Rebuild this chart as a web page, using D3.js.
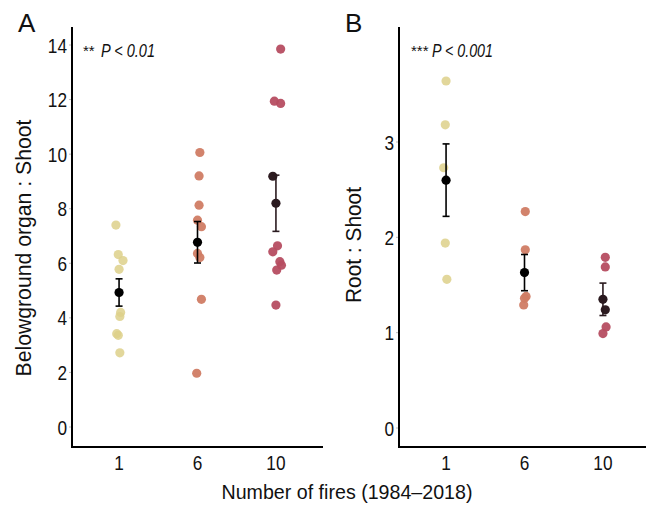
<!DOCTYPE html>
<html>
<head>
<meta charset="utf-8">
<script src="https://cdn.jsdelivr.net/npm/d3@7"></script>
<style>
  body { margin: 0; background: #fff; }
  text { font-family: "Liberation Sans", Arial, sans-serif; fill: #111; }
</style>
</head>
<body>
<svg id="chart" width="646" height="505"></svg>
<script>
// categories (number of fires)
const fires = ["1", "6", "10"];

// panel A: belowground organ : shoot, points per group
const organ1  = [7.40, 6.32, 6.10, 5.78, 4.20, 4.05, 3.42, 3.36, 2.72];
const organ6  = [10.06, 9.20, 8.13, 7.58, 7.34, 6.36, 6.21, 4.68, 1.97];
const organ10 = [13.85, 11.94, 11.86, 9.19, 6.64, 6.42, 6.06, 5.93, 5.75, 4.47];
// horizontal jitter (fraction of category step)
const jitA1  = [-0.04, -0.01, 0.05, 0.00, 0.02, 0.01, -0.03, -0.01, 0.01];
const jitA6  = [0.03, 0.02, 0.02, 0.00, 0.05, 0.00, 0.03, 0.05, -0.01];
const jitA10 = [0.06, -0.02, 0.06, -0.04, 0.02, -0.04, 0.05, 0.07, 0.01, 0.00];
const organMean = [4.93, 6.77, 8.20];
const organSe   = [0.50, 0.76, 1.03];

// panel B: root : shoot
const root1  = [3.64, 3.18, 2.73, 1.94, 1.56];
const root6  = [2.27, 1.87, 1.38, 1.36, 1.29];
const root10 = [1.79, 1.69, 1.24, 1.06, 0.99];
const jitB1  = [0.00, -0.01, -0.03, -0.01, 0.01];
const jitB6  = [0.01, 0.01, 0.02, 0.00, -0.01];
const jitB10 = [0.03, 0.03, 0.03, 0.04, 0.00];
const rootMean = [2.60, 1.63, 1.35];
const rootSe   = [0.38, 0.19, 0.17];

const ticksA = [0, 2, 4, 6, 8, 10, 12, 14];
const ticksB = [0, 1, 2, 3];

const groupColors = ["#ddd08a", "#d07c64", "#b64d61"];
const meanColors = ["#000000", "#000000", "#2a1a1f"];
const darkPoint = "#2d1c21";

const svg = d3.select("#chart");

function squeeze(sel, k) {
  sel.each(function() {
    const w = this.getComputedTextLength();
    d3.select(this).attr("textLength", w * k).attr("lengthAdjust", "spacingAndGlyphs");
  });
}

function panel(opt) {
  const x = d3.scalePoint().domain(fires).range([opt.x0, opt.x1]).padding(0.6);
  const y = d3.scaleLinear().domain(opt.ydom).range(opt.yrange);
  const step = x.step();
  const g = svg.append("g");

  // y tick labels + small ticks
  const yt = g.append("g");
  yt.selectAll("line").data(opt.ticks).join("line")
    .attr("x1", opt.x0 - 3).attr("x2", opt.x0)
    .attr("y1", d => y(d)).attr("y2", d => y(d))
    .attr("stroke", "#bbb").attr("stroke-width", 1);
  yt.selectAll("text").data(opt.ticks).join("text")
    .attr("x", opt.x0 - 5).attr("y", d => y(d)).attr("dy", "0.36em")
    .attr("text-anchor", "end").style("font-size", "21px")
    .text(d => d)
    .call(squeeze, 0.82);

  // x tick labels
  g.append("g").selectAll("text").data(fires).join("text")
    .attr("x", d => x(d)).attr("y", 470)
    .attr("text-anchor", "middle").style("font-size", "21px")
    .text(d => d)
    .call(squeeze, 0.82);

  // points
  opt.groups.forEach((vals, gi) => {
    const pts = vals.map((v, i) => ({ v, j: opt.jit[gi][i], i }));
    g.append("g").selectAll("circle").data(pts).join("circle")
      .attr("cx", d => x(fires[gi]) + d.j * step)
      .attr("cy", d => y(d.v))
      .attr("r", 4.6)
      .attr("fill", d => (opt.dark[gi] === d.i ? darkPoint : groupColors[gi]))
      .attr("fill-opacity", d => (opt.dark[gi] === d.i ? 1 : opt.alpha[gi]));
  });

  // mean ± se
  const ms = fires.map((f, i) => ({ f, m: opt.mean[i], se: opt.se[i], c: meanColors[i] }));
  const eb = g.append("g");
  eb.selectAll("line.v").data(ms).join("line").attr("class", "v")
    .attr("x1", d => x(d.f)).attr("x2", d => x(d.f))
    .attr("y1", d => y(d.m - d.se)).attr("y2", d => y(d.m + d.se))
    .attr("stroke", d => d.c).attr("stroke-width", 1.6);
  [-1, 1].forEach(s => {
    eb.append("g").selectAll("line").data(ms).join("line")
      .attr("x1", d => x(d.f) - 3.5).attr("x2", d => x(d.f) + 3.5)
      .attr("y1", d => y(d.m + s * d.se)).attr("y2", d => y(d.m + s * d.se))
      .attr("stroke", d => d.c).attr("stroke-width", 1.6);
  });
  eb.selectAll("circle").data(ms).join("circle")
    .attr("cx", d => x(d.f)).attr("cy", d => y(d.m)).attr("r", 4.6)
    .attr("fill", d => d.c);

  // axes lines
  g.append("line").attr("x1", opt.x0).attr("x2", opt.x0)
    .attr("y1", 27).attr("y2", 448).attr("stroke", "#000").attr("stroke-width", 2);
  g.append("line").attr("x1", opt.x0 - 1).attr("x2", opt.x1)
    .attr("y1", 447).attr("y2", 447).attr("stroke", "#000").attr("stroke-width", 2);

  // panel letter
  g.append("text").attr("x", opt.letterX).attr("y", 32)
    .style("font-size", "26px").text(opt.letter);

  // significance
  g.append("text").attr("x", opt.starX).attr("y", 56)
    .style("font-size", "15px").text(opt.stars);
  g.append("text").attr("x", opt.pX).attr("y", 57)
    .style("font-size", "18px").style("font-style", "italic")
    .attr("textLength", opt.pLen).attr("lengthAdjust", "spacingAndGlyphs")
    .text(opt.pText);

  // y title
  g.append("text")
    .attr("transform", `translate(${opt.titleX},${opt.titleY}) rotate(-90)`)
    .attr("text-anchor", "middle").style("font-size", "22px")
    .attr("textLength", opt.titleLen).attr("lengthAdjust", "spacingAndGlyphs")
    .text(opt.title);
}

panel({
  x0: 72, x1: 323, ydom: [0, 14], yrange: [427, 45], ticks: ticksA,
  groups: [organ1, organ6, organ10], jit: [jitA1, jitA6, jitA10],
  dark: [-1, -1, 3], alpha: [0.85, 0.95, 0.95],
  mean: organMean, se: organSe,
  letter: "A", letterX: 18, stars: "**", starX: 83, pText: "P < 0.01", pX: 101, pLen: 54,
  title: "Belowground organ : Shoot", titleX: 31, titleY: 248, titleLen: 257
});

panel({
  x0: 399, x1: 650, ydom: [0, 3], yrange: [428, 142], ticks: ticksB,
  groups: [root1, root6, root10], jit: [jitB1, jitB6, jitB10],
  dark: [-1, -1, 2], alpha: [0.85, 0.95, 0.95],
  mean: rootMean, se: rootSe,
  letter: "B", letterX: 345, stars: "***", starX: 411, pText: "P < 0.001", pX: 432, pLen: 61,
  title: "Root : Shoot", titleX: 361, titleY: 245, titleLen: 116
});

// shared x title
svg.append("text").attr("x", 347).attr("y", 499)
  .attr("text-anchor", "middle").style("font-size", "21px")
  .attr("textLength", 251).attr("lengthAdjust", "spacingAndGlyphs")
  .text("Number of fires (1984\u20132018)");
</script>
</body>
</html>
